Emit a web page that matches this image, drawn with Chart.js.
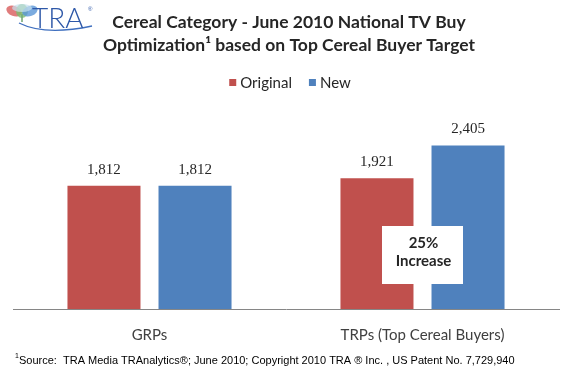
<!DOCTYPE html>
<html>
<head>
<meta charset="utf-8">
<script src="https://cdn.jsdelivr.net/npm/chart.js@4"></script>
<style>
  html, body { margin: 0; padding: 0; background: #ffffff; }
  #wrap { position: relative; width: 575px; height: 380px; }
  canvas { display: block; }
</style>
</head>
<body>
<div id="wrap"><canvas id="c" width="575" height="380"></canvas></div>
<script>
const categories = ["GRPs", "TRPs (Top Cereal Buyers)"];
const seriesNames = ["Original", "New"];
const originalValues = [1812, 1921];
const newValues = [1812, 2405];
const seriesColors = ["#C0504D", "#4F81BD"];
const titleLines = ["Cereal Category - June 2010 National TV Buy", "Optimization\u00B9 based on Top Cereal Buyer Target"];
const calloutLines = ["25%", "Increase"];
const sourceNote = "Source:  TRA Media TRAnalytics\u00AE; June 2010; Copyright 2010 TRA \u00AE Inc. , US Patent No. 7,729,940";

const fmt = v => v.toLocaleString('en-US');

const decor = {
  id: 'decor',
  afterDraw(chart) {
    const ctx = chart.ctx;
    const x = chart.scales.x;
    const area = chart.chartArea;
    ctx.save();

    // Logo
    ctx.save();
    const petals = [
      {cx: 14, cy: 11, rx: 8, ry: 5, rot: 0.35, c: 'rgba(214,80,80,0.75)'},
      {cx: 22, cy: 11, rx: 6, ry: 7, rot: 0, c: 'rgba(120,190,110,0.8)'},
      {cx: 30, cy: 11, rx: 8, ry: 5, rot: -0.35, c: 'rgba(90,150,215,0.8)'},
      {cx: 22, cy: 8, rx: 10, ry: 4, rot: 0, c: 'rgba(200,225,240,0.7)'}
    ];
    petals.forEach(p => {
      ctx.beginPath();
      ctx.ellipse(p.cx, p.cy, p.rx, p.ry, p.rot, 0, Math.PI * 2);
      ctx.fillStyle = p.c;
      ctx.fill();
    });
    ctx.beginPath();
    ctx.moveTo(22, 14);
    ctx.lineTo(22, 22);
    ctx.strokeStyle = 'rgba(120,170,120,0.8)';
    ctx.lineWidth = 2;
    ctx.stroke();
    ctx.beginPath();
    ctx.moveTo(19, 23);
    ctx.quadraticCurveTo(45, 36, 92, 26);
    ctx.strokeStyle = '#3F6FBF';
    ctx.lineWidth = 1.3;
    ctx.stroke();
    ctx.fillStyle = '#2E58A8';
    ctx.font = '300 28px Lato';
    ctx.textBaseline = 'alphabetic';
    ctx.textAlign = 'left';
    ctx.fillText('TRA', 32, 28);
    ctx.font = '6px Arial';
    ctx.fillText('\u00AE', 88, 11);
    ctx.restore();

    // Title
    ctx.fillStyle = '#262626';
    ctx.textAlign = 'center';
    ctx.textBaseline = 'middle';
    ctx.font = 'bold 17.5px Lato';
    ctx.fillText(titleLines[0], 289, 22);
    ctx.fillText(titleLines[1], 289, 45);

    // Legend
    ctx.font = '15px Lato';
    const items = chart.data.datasets.map(d => ({label: d.label, color: d.backgroundColor, w: ctx.measureText(d.label).width}));
    const box = 7, g1 = 4, g2 = 17;
    let total = 0;
    items.forEach((it, i) => { total += box + g1 + it.w + (i < items.length - 1 ? g2 : 0); });
    let lx = 290 - total / 2;
    ctx.textAlign = 'left';
    items.forEach(it => {
      ctx.fillStyle = it.color;
      ctx.fillRect(lx, 79, box, box);
      lx += box + g1;
      ctx.fillStyle = '#262626';
      ctx.fillText(it.label, lx, 83);
      lx += it.w + g2;
    });

    // Data labels
    ctx.textAlign = 'center';
    ctx.font = '15px "Liberation Serif"';
    ctx.fillStyle = '#262626';
    chart.data.datasets.forEach((ds, di) => {
      const meta = chart.getDatasetMeta(di);
      meta.data.forEach((bar, i) => {
        ctx.fillText(fmt(ds.data[i]), bar.x, bar.y - 16);
      });
    });

    // Callout box
    const cx = x.getPixelForValue(1);
    const bw = 81;
    const top = area.bottom - 83, bot = area.bottom - 25;
    ctx.fillStyle = '#ffffff';
    ctx.fillRect(cx - bw / 2, top, bw, bot - top);
    ctx.fillStyle = '#262626';
    ctx.font = 'bold 15px Lato';
    ctx.fillText(calloutLines[0], cx + 1, top + 17);
    ctx.fillText(calloutLines[1], cx + 1, top + 35);

    // Source note
    ctx.textAlign = 'left';
    ctx.fillStyle = '#000000';
    ctx.font = '7px "Liberation Sans"';
    ctx.fillText('1', 15, 356);
    ctx.font = '11px "Liberation Sans"';
    ctx.fillText(sourceNote, 19, 361);
    ctx.restore();
  }
};

new Chart(document.getElementById('c'), {
  type: 'bar',
  data: {
    labels: categories,
    datasets: [
      {label: seriesNames[0], data: originalValues, backgroundColor: seriesColors[0]},
      {label: seriesNames[1], data: newValues, backgroundColor: seriesColors[1]}
    ]
  },
  options: {
    responsive: false,
    animation: false,
    devicePixelRatio: 1,
    categoryPercentage: 0.667,
    barPercentage: 0.802,
    layout: {padding: {top: 105, left: 13, right: 16, bottom: 19}},
    plugins: {legend: {display: false}, title: {display: false}, tooltip: {enabled: false}},
    scales: {
      x: {
        grid: {display: false, drawTicks: false},
        border: {display: true, color: '#868686', width: 1},
        ticks: {font: {family: 'Lato', size: 15}, color: '#404040', padding: 17}
      },
      y: {display: false, min: 0, max: 3000}
    }
  },
  plugins: [decor]
});
</script>
</body>
</html>
